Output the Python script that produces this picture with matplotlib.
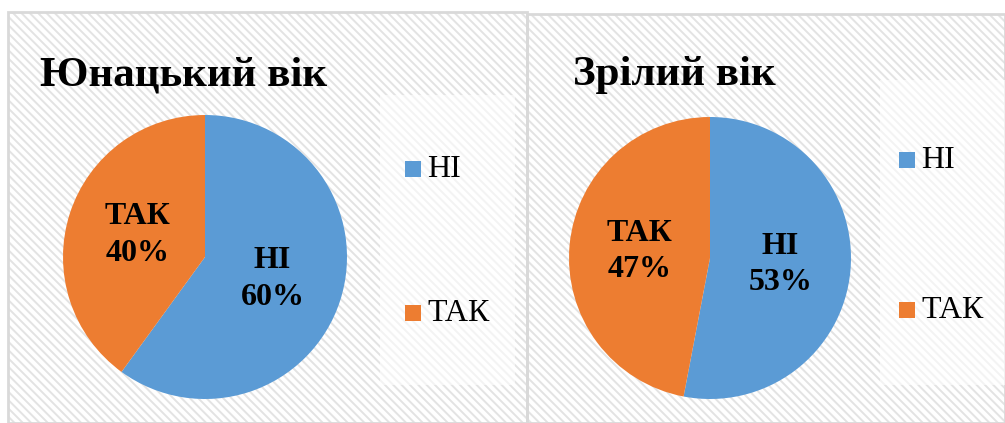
import matplotlib
matplotlib.use("Agg")
import matplotlib.pyplot as plt
from matplotlib.patches import Rectangle
import numpy as np

# data
categories = ["НІ", "ТАК"]
young_values = [60, 40]
mature_values = [53, 47]
titles = ["Юнацький вік", "Зрілий вік"]

colors = ["#5B9BD5", "#ED7D31"]
W, H = 1005, 423
plt.rcParams["hatch.linewidth"] = 1.4

fig = plt.figure(figsize=(W / 100, H / 100), dpi=100)
ax = fig.add_axes([0, 0, 1, 1])
serif = ["Liberation Serif", "DejaVu Serif"]


def Y(y):
    # picture rows -> axis coords (y up)
    return H - y


panels = [
    # panel box, pie centre / radius, title, legend box, legend rows
    dict(box=(8, 12, 527), c=(205, 257), r=142, title=(40, 75),
         leg=(380, 95, 515, 385), lx=405, ly=(169, 313)),
    dict(box=(527, 14, 1005), c=(710, 258), r=141, title=(573, 75),
         leg=(880, 80, 1005, 385), lx=899, ly=(160, 310)),
]

for p, vals, title in zip(panels, [young_values, mature_values], titles):
    x0, y0, x1 = p["box"]
    # striped chart background
    ax.add_patch(Rectangle((x0, 0), x1 - x0, Y(y0), facecolor="white",
                           edgecolor="#e3e3e3", hatch="\\\\\\\\", lw=0, zorder=0))
    ax.add_patch(Rectangle((x0, 0), x1 - x0, Y(y0), facecolor="none",
                           edgecolor="#d9d9d9", lw=2, zorder=0.2))
    lx0, ly0, lx1, ly1 = p["leg"]
    ax.add_patch(Rectangle((lx0, Y(ly1)), lx1 - lx0, ly1 - ly0,
                           facecolor="white", alpha=0.6, lw=0, zorder=0.5))
    cx, cy = p["c"]
    wedges, _ = ax.pie(vals, colors=colors, startangle=90, counterclock=False,
                       center=(cx, Y(cy)), radius=p["r"], frame=True,
                       wedgeprops=dict(lw=0))
    for w, cat, v in zip(wedges, categories, vals):
        mid = np.deg2rad((w.theta1 + w.theta2) / 2)
        tx = cx + 0.5 * p["r"] * np.cos(mid)
        ty = Y(cy) + 0.5 * p["r"] * np.sin(mid)
        ax.text(tx, ty, "%s\n%d%%" % (cat, v), ha="center", va="center",
                family=serif, fontweight="bold", fontsize=23, linespacing=1.35)
    ax.text(p["title"][0], Y(p["title"][1]), title, ha="left", va="center",
            family=serif, fontweight="bold", fontsize=31)
    for cat, col, yy in zip(categories, colors, p["ly"]):
        ax.add_patch(Rectangle((p["lx"], Y(yy) - 8), 16, 16, facecolor=col,
                               lw=0, zorder=3))
        ax.text(p["lx"] + 22, Y(yy), cat, ha="left", va="center",
                family=serif, fontsize=23)

ax.set_xlim(0, W)
ax.set_ylim(0, H)
ax.set_aspect("auto")
ax.axis("off")
fig.savefig("out.png", dpi=100)
